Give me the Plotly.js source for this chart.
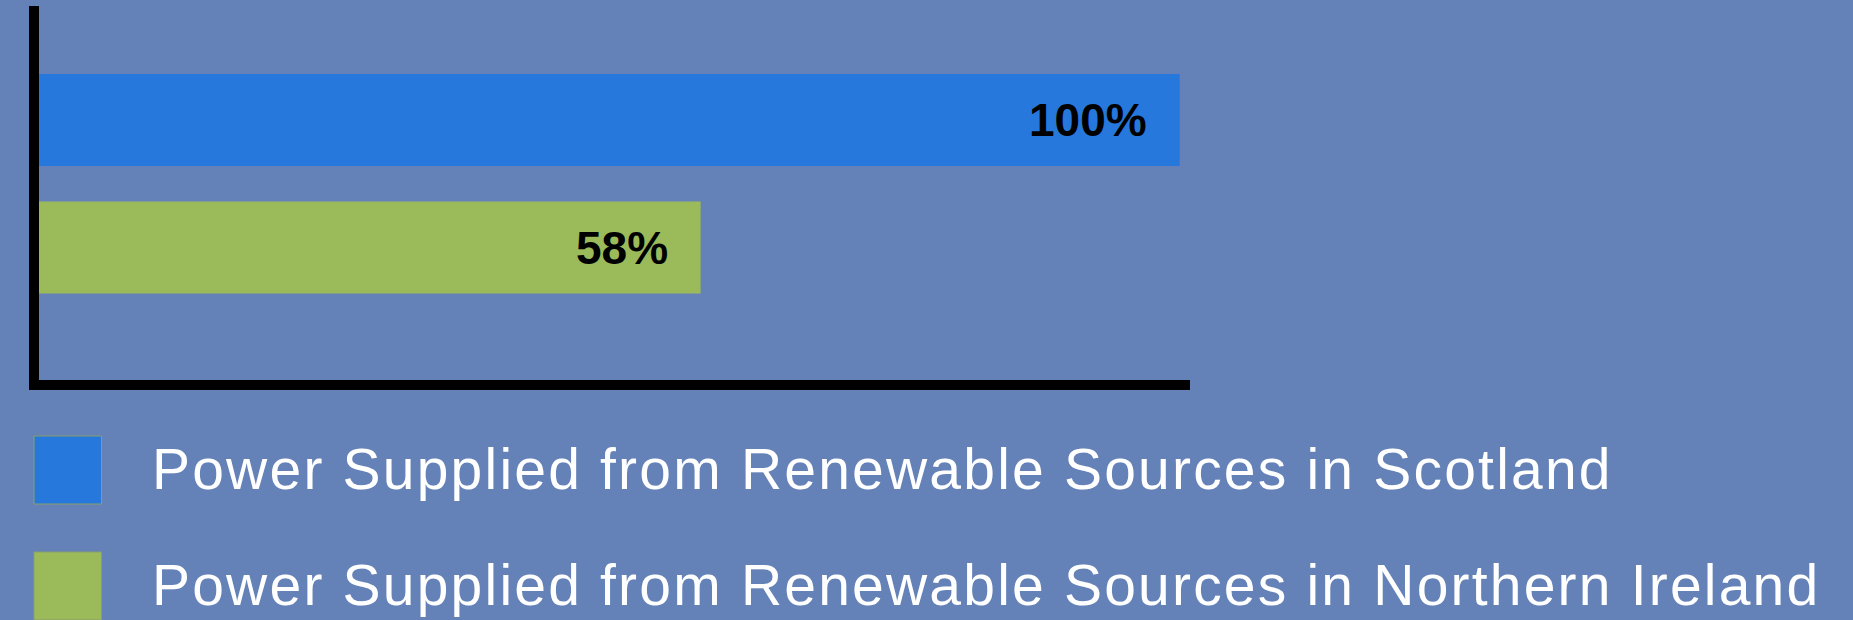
<!DOCTYPE html>
<html>
<head>
<meta charset="utf-8">
<script src="https://cdn.plot.ly/plotly-3.0.1.min.js"></script>
<style>
html,body{margin:0;padding:0;background:#6482B8;}
#chart{width:1853px;height:620px;}
.legend-like{letter-spacing:2.2px;}
</style>
</head>
<body>
<div id="chart"></div>
<script>
// Data
const regions = ['Scotland', 'Northern Ireland'];
const seriesNames = [
  'Power Supplied from Renewable Sources in Scotland',
  'Power Supplied from Renewable Sources in Northern Ireland'
];
const values = [100, 58];
const colors = ['#2678DC', '#9BBA59'];

const bg = '#6482B8';

const traces = regions.map((r, i) => ({
  type: 'bar',
  orientation: 'h',
  y: [r],
  x: [values[i]],
  name: seriesNames[i],
  width: 0.7216,
  marker: {color: colors[i], line: {width: 0}},
  hoverinfo: 'none'
}));

const annotations = [];
const shapes = [];

// data labels
regions.forEach((r, i) => {
  annotations.push({
    x: values[i], y: r, xref: 'x', yref: 'y',
    text: values[i] + '%',
    showarrow: false,
    xanchor: 'right', yanchor: 'middle',
    xshift: -31,
    font: {family: 'Liberation Sans, Arial, sans-serif', size: 46, color: '#000000', weight: 'bold'}
  });
});

// custom legend
const legendSwatchY = [[-0.3316, -0.1497], [-0.6417, -0.4599]];
const legendTextY = [-0.238, -0.5473];
seriesNames.forEach((n, i) => {
  shapes.push({
    type: 'rect', xref: 'paper', yref: 'paper',
    x0: -0.00434, x1: 0.0543,
    y0: legendSwatchY[i][0], y1: legendSwatchY[i][1],
    fillcolor: colors[i],
    line: {color: '#8A9F6A', width: 1},
    layer: 'above'
  });
  annotations.push({
    x: 0.0968, y: legendTextY[i], xref: 'paper', yref: 'paper',
    text: n, showarrow: false,
    xanchor: 'left', yanchor: 'middle',
    font: {family: 'Liberation Sans, Arial, sans-serif', size: 57, color: '#FFFFFF'}
  });
});

const layout = {
  width: 1853, height: 620,
  margin: {l: 39, r: 663, t: 6, b: 240, pad: 0},
  paper_bgcolor: bg,
  plot_bgcolor: bg,
  barmode: 'overlay',
  showlegend: false,
  xaxis: {
    range: [0, 100.9],
    showgrid: false, zeroline: false,
    showticklabels: false, ticks: '',
    showline: true, linecolor: '#000000', linewidth: 10,
    fixedrange: true
  },
  yaxis: {
    type: 'category',
    categoryorder: 'array', categoryarray: regions,
    range: [2.039, -0.894],
    showgrid: false, zeroline: false,
    showticklabels: false, ticks: '',
    showline: true, linecolor: '#000000', linewidth: 10,
    fixedrange: true
  },
  annotations: annotations,
  shapes: shapes
};

function markLegend() {
  document.querySelectorAll('#chart g.annotation').forEach(g => {
    const idx = +g.getAttribute('data-index');
    if (idx >= regions.length) {
      const t = g.querySelector('text.annotation-text');
      if (!t) return;
      const w0 = t.getComputedTextLength();
      const x0 = parseFloat(t.getAttribute('x')) || 0;
      t.setAttribute('x', x0 - w0 / 2);
      t.setAttribute('text-anchor', 'start');
      t.classList.add('legend-like');
    }
  });
}

Plotly.newPlot('chart', traces, layout, {displayModeBar: false, staticPlot: true}).then(markLegend);
</script>
</body>
</html>
